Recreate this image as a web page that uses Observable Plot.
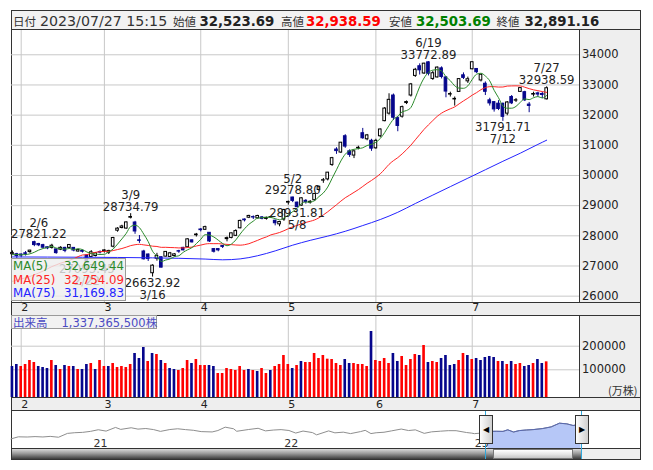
<!DOCTYPE html>
<html lang="ja">
<head>
<meta charset="utf-8">
<script src="https://cdn.jsdelivr.net/npm/d3@7"></script>
<script src="https://cdn.jsdelivr.net/npm/@observablehq/plot@0.6"></script>
<style>
  html,body{margin:0;padding:0;background:#fff;}
  #root{position:relative;width:653px;height:470px;overflow:hidden;font-family:"DejaVu Sans",sans-serif;}
  .a{position:absolute;box-sizing:border-box;}
  .jp{font-family:"Noto Sans CJK JP","DejaVu Sans",sans-serif;}
</style>
</head>
<body>
<div id="root"></div>
<script>
// ---------------- data ----------------
const dates = ["1/30","1/31",
 "2/1","2/2","2/3","2/6","2/7","2/8","2/9","2/10","2/13","2/14","2/15","2/16","2/17","2/20","2/21","2/22","2/24","2/27","2/28",
 "3/1","3/2","3/3","3/6","3/7","3/8","3/9","3/10","3/13","3/14","3/15","3/16","3/17","3/20","3/22","3/23","3/24","3/27","3/28","3/29","3/30","3/31",
 "4/3","4/4","4/5","4/6","4/7","4/10","4/11","4/12","4/13","4/14","4/17","4/18","4/19","4/20","4/21","4/24","4/25","4/26","4/27","4/28",
 "5/1","5/2","5/8","5/9","5/10","5/11","5/12","5/15","5/16","5/17","5/18","5/19","5/22","5/23","5/24","5/25","5/26","5/29","5/30","5/31",
 "6/1","6/2","6/5","6/6","6/7","6/8","6/9","6/12","6/13","6/14","6/15","6/16","6/19","6/20","6/21","6/22","6/23","6/26","6/27","6/28","6/29","6/30",
 "7/3","7/4","7/5","7/6","7/7","7/10","7/11","7/12","7/13","7/14","7/18","7/19","7/20","7/21","7/24","7/25","7/26","7/27"];

const opens = [27390,27390,27380,27420,27460,27790,27730,27690,27620,27600,27550,27540,27600,27600,27600,27480,27500,27350,27300,27330,27460,
 27480,27440,27640,28170,28260,28240,28600,28440,27850,27480,27380,26760,27240,27290,27310,27300,27330,27490,27600,27620,27850,28020,
 28210,28200,28100,27560,27560,27660,27890,27930,28000,28250,28540,28600,28620,28580,28610,28560,28610,28500,28380,28540,
 29100,29270,29100,29000,29160,29100,29180,29520,29830,29870,30350,30860,30760,31300,30800,30660,30900,31400,31200,31150,
 30900,31300,31800,32050,32650,31900,31950,32400,32650,33300,33620,33380,33750,33200,33250,33550,33250,32680,32520,32770,33320,33120,
 33520,33530,33150,33040,32490,32430,32380,32375,32050,32600,32480,32770,32760,32350,32680,32720,32700,32523.69];
const highs = [27500,27420,27400,27480,27520,27821.22,27750,27720,27630,27720,27560,27640,27620,27700,27610,27560,27530,27370,27510,27440,27500,
 27540,27520,27950,28270,28350,28460,28734.79,28480,28010,27520,27400,27040,27420,27300,27480,27450,27410,27520,27620,27900,27860,28080,
 28240,28320,28110,27580,27580,27680,27960,28090,28200,28520,28560,28680,28660,28680,28640,28620,28640,28520,28480,28880,
 29150,29278.80,29120,29260,29200,29170,29400,29640,29900,30100,30600,30920,31090,31352,30850,30810,30970,31560,31360,31200,
 31200,31540,32250,32708,32700,31950,32300,32470,33050,33550,33700,33720,33772.89,33450,33600,33600,33280,32760,32600,33200,33400,33260,
 33762,33540,33350,33100,32560,32450,32480,32400,32450,32650,32550,32900,32790,32420,32760,32760,32760,32938.59];
const lows = [27380,27250,27280,27330,27420,27640,27640,27580,27540,27560,27390,27510,27440,27560,27470,27460,27430,27093.45,27290,27300,27400,
 27430,27380,27600,28120,28230,28220,28560,28050,27750,27200,27150,26632.92,27160,26940,27300,27280,27300,27420,27500,27600,27760,27960,
 28130,28180,27780,27430,27470,27580,27800,27900,27980,28230,28460,28570,28540,28560,28530,28520,28580,28330,28300,28480,
 29020,29100,28931.81,28980,29050,29050,29150,29480,29740,29820,30300,30700,30730,30900,30600,30560,30850,31200,31150,30800,
 30870,31250,31780,32000,31820,31450,31900,32350,32600,33250,33330,33350,33300,33150,33230,33200,32575,32600,32300,32760,33180,33050,
 33500,33380,33100,32650,32300,32100,32150,31791.71,31980,32350,32420,32750,32450,32080,32600,32600,32550,32503.69];
const closes = [27433.40,27327.11,27346.88,27402.05,27509.46,27693.65,27685.47,27606.46,27584.35,27670.98,27427.32,27602.77,27501.86,27696.44,27513.13,27531.94,27473.10,27104.32,27453.48,27423.96,27445.56,
 27516.53,27498.87,27927.47,28237.78,28309.16,28444.19,28623.15,28143.97,27832.96,27222.04,27229.48,27010.61,27333.79,26945.67,27466.61,27419.61,27385.25,27476.87,27518.25,27883.78,27782.93,28041.48,
 28188.15,28287.42,27813.26,27472.63,27518.31,27633.66,27923.37,28082.70,28156.97,28493.47,28514.78,28658.83,28606.76,28657.57,28564.37,28593.52,28620.07,28416.47,28457.68,28856.44,
 29123.18,29157.95,28949.88,29242.82,29122.18,29126.72,29388.30,29626.34,29842.99,30093.59,30573.93,30808.35,31086.82,30957.77,30682.68,30801.13,30916.31,31233.54,31328.16,30887.88,
 31148.01,31524.22,32217.43,32506.78,31913.74,31641.27,32265.17,32434.00,33018.65,33502.42,33485.49,33706.08,33370.42,33388.91,33575.14,33264.88,32781.54,32698.81,32538.33,33193.99,33234.14,33189.04,
 33753.33,33422.52,33338.70,32773.02,32388.42,32189.73,32203.57,31943.93,32419.33,32391.26,32493.89,32896.03,32490.52,32304.25,32700.69,32682.51,32668.59,32891.16];

// closes before the first visible day (for the moving-average windows)
const priorCloses = [26507.87,26235.25,26405.87,26447.87,26340.50,26093.67,26094.50,25716.86,25820.80,25973.85,26175.56,26446.00,
 26449.61,26119.52,25822.32,26138.68,26791.12,26405.23,26553.53,26906.04,27299.19,27395.01,27362.75,27382.56];

// volume in 万株, and direction (r = up vs previous close, b = down)
const volumes = [114000,122500,114000,122500,139400,130900,114000,109700,105500,139400,
 118200,101300,118200,114000,114000,101300,101300,122500,126700,101300,
 139400,114000,114000,126700,109700,114000,109700,122500,169100,147900,
 194500,135200,169100,164800,139400,126700,105500,101300,97000,105500,
 139400,126700,143600,118200,118200,118200,114000,84300,84300,105500,
 101300,97000,114000,97000,101300,97000,92800,105500,84300,97000,
 114000,122500,160600,122500,105500,118200,135200,130900,130900,169100,
 147900,160600,145000,143600,126700,118200,143600,126700,126700,122500,
 122500,114000,262300,139400,135200,147900,126700,169100,135200,156400,
 118200,143600,164800,160600,203000,130900,135200,130900,147900,160600,
 118200,122500,139400,169100,160600,143600,147900,139400,152100,156400,
 152100,135200,135200,122500,135200,122500,126700,114000,118200,126700,
 143600,126700,133736.55];
const volDir = "bbrrrrbbbrbrbrbrbbrbrrbrrrrrbbbrbrbrbbrrrbrrrbbrrrrrrrbrbrrbrrrrbrbrrrrrrrrrbbrrrrbrrrrbbrrrrbrbrrbbbbrrbrbbbbbrbrbrrbbrbbr";

// 75-day moving average
const ma75Idx = [0,16,32,44,48,52,56,60,64,68,72,76,80,84,88,92,96,100,104,108,112,116,120,122];
const ma75Val = [27300,27290,27270,27230,27205,27235,27340,27500,27690,27850,27990,28150,28340,28540,28780,29070,29350,29630,29910,30190,30470,30740,31030,31169.83];

const monthIdx = [2,21,43,63,83,105];
const monthLabels = ["2","3","4","5","6","7"];
const priceTicks = [26000,27000,28000,29000,30000,31000,32000,33000,34000];
const volTicks = [100000,200000];

// annotated highs / lows
const extIdx  = [5,17,27,32,64,65,95,112,122];
const extKind = ["H","L","H","L","H","L","H","L","H"];

const headerDate = "2023/07/27 15:15";

// navigator (long-term line)
const navDates = ["2020-07-31","2020-08-14","2020-08-31","2020-09-15","2020-09-30","2020-10-14","2020-10-30","2020-11-16","2020-11-30","2020-12-15","2020-12-30",
 "2021-01-14","2021-01-29","2021-02-16","2021-02-26","2021-03-18","2021-03-31","2021-04-15","2021-04-30","2021-05-13","2021-05-31","2021-06-15","2021-06-30",
 "2021-07-15","2021-07-30","2021-08-20","2021-08-31","2021-09-14","2021-09-30","2021-10-06","2021-10-29","2021-11-16","2021-11-30","2021-12-15","2021-12-30",
 "2022-01-14","2022-01-27","2022-02-10","2022-02-28","2022-03-08","2022-03-31","2022-04-12","2022-04-28","2022-05-12","2022-05-31","2022-06-09","2022-06-20",
 "2022-06-30","2022-07-15","2022-07-29","2022-08-17","2022-08-31","2022-09-13","2022-09-30","2022-10-14","2022-10-31","2022-11-15","2022-11-30","2022-12-20",
 "2022-12-30","2023-01-04","2023-01-17","2023-01-30","2023-02-15","2023-02-28","2023-03-09","2023-03-20","2023-03-31","2023-04-14","2023-04-28","2023-05-15",
 "2023-05-31","2023-06-16","2023-06-30","2023-07-12","2023-07-27"];
const navValues = [21710,23289,23140,23455,23185,23626,22977,25907,26434,26688,27444,
 28698,27663,30467,28966,30216,29179,29643,28813,27448,28860,29441,28792,
 28279,27284,27013,28090,30670,29453,27528,28893,29808,27822,28459,28792,
 28124,26170,27696,26527,24790,27821,26335,26848,25748,27280,28246,25771,
 26393,26788,27802,29222,28092,28614,25937,27090,27587,27990,27969,26568,
 26095,25716,26138,27433,27501,27445,28623,26945,28041,28493,28856,29626,
 30888,33706,33189,31943,32891];
const navYears = ["2021-01-01","2022-01-01","2023-01-01"];
const navYearLabels = ["21","22","23"];
const navSelStart = "2023-01-30";

// ---------------- derived ----------------
const N = dates.length;
const L = N - 1;
const NAVY = "#06068c", GREEN = "#2a8a2a", RED = "#ff2626", BLUE = "#2424ff";
const rows = d3.range(N).map(i => ({i, o: opens[i], h: highs[i], l: lows[i], c: closes[i], up: closes[i] >= opens[i]}));
const allC = priorCloses.concat(closes);
const P = priorCloses.length;
const movingAvg = n => closes.map((_, i) => { const e = P + i + 1; return {i, v: d3.mean(allC.slice(Math.max(0, e - n), e))}; });
const ma5 = movingAvg(5), ma25 = movingAvg(25);
const ma75 = ma75Idx.map((i, k) => ({i, v: ma75Val[k]}));
const ext = extIdx.map((i, k) => ({i, kind: extKind[k], v: extKind[k] === "H" ? highs[i] : lows[i], date: dates[i]}));
const monthLabel = new Map(monthIdx.map((d, k) => [d, monthLabels[k]]));
const volRows = volumes.map((v, i) => ({i, v, col: volDir[i] === "r" ? "#ff0000" : NAVY}));
const navRows = navDates.map((d, k) => ({date: new Date(d), v: navValues[k]}));
const navSel = navRows.filter(d => d.date >= new Date(navSelStart));
const fmt = d3.format(",.2f");

const xDomain = [-0.215, 129.61];
const priceDomain = [25790, 34805];
const volDomain = [-17370, 330085];
const volBase = volDomain[0];
const navYDomain = [14360, 43410];
const navFloor = navYDomain[0];

const root = document.getElementById("root");
function box(css, html, cls) {
  const d = document.createElement("div");
  d.className = "a" + (cls ? " " + cls : "");
  d.style.cssText = css;
  if (html) d.innerHTML = html;
  root.appendChild(d);
  return d;
}
function place(el, left, top) {
  el.style.position = "absolute"; el.style.left = left + "px"; el.style.top = top + "px";
  root.appendChild(el);
}

// ---------------- backgrounds ----------------
box("left:11px;top:10px;width:630px;height:20px;border:1px solid #333;background:#f2f2f2;");
box("left:11px;top:29px;width:630px;height:431px;border:1px solid #333;background:#fff;");
box("left:580px;top:30px;width:60px;height:272px;background:#eeeeee;");
box("left:12px;top:303px;width:628px;height:12px;background:#eeeeee;");
box("left:580px;top:316px;width:60px;height:81px;background:#eeeeee;");
box("left:12px;top:398px;width:628px;height:12px;background:#eeeeee;");
box("left:582px;top:449px;width:58px;height:10px;background:#eeeeee;");

const baseStyle = {background: "transparent", fontFamily: "DejaVu Sans, sans-serif", fontSize: "11.5px", color: "#222", overflow: "visible"};

// ---------------- main price chart ----------------
const hi = ext.filter(d => d.kind === "H"), lo = ext.filter(d => d.kind === "L");
const main = Plot.plot({
  width: 653, height: 285,
  marginLeft: 11, marginRight: 73.5, marginTop: 0, marginBottom: 13,
  x: {domain: xDomain},
  y: {domain: priceDomain},
  color: {type: "identity"},
  style: baseStyle,
  marks: [
    Plot.gridY(priceTicks, {stroke: "#c8c8c8", strokeOpacity: 1}),
    Plot.gridX(monthIdx, {stroke: "#c8c8c8", strokeOpacity: 1}),
    Plot.ruleX(rows, {x: "i", y1: "l", y2: "h", stroke: d => d.up ? "#000000" : NAVY, strokeWidth: 1}),
    Plot.rect(rows, {x1: d => d.i - 0.3, x2: d => d.i + 0.3,
      y1: d => Math.min(d.o, d.c), y2: d => Math.max(d.o, d.c),
      fill: d => d.up ? "#ffffff" : NAVY, stroke: d => d.up ? "#000000" : NAVY, strokeWidth: 1}),
    Plot.line(ma75, {x: "i", y: "v", stroke: BLUE, strokeWidth: 1, curve: "monotone-x"}),
    Plot.line(ma25, {x: "i", y: "v", stroke: RED, strokeWidth: 1, curve: "monotone-x"}),
    Plot.line(ma5, {x: "i", y: "v", stroke: GREEN, strokeWidth: 1, curve: "monotone-x"}),
    Plot.text(hi.filter(d => d.i !== 5), {x: "i", y: "v", text: d => `${d.date}\n${d.v.toFixed(2)}`,
      lineAnchor: "bottom", dy: -3, lineHeight: 0.97, fontSize: 11.7, fill: "#222"}),
    Plot.text(hi.filter(d => d.i === 5), {x: "i", y: "v", text: d => `${d.date}\n${d.v.toFixed(2)}`,
      lineAnchor: "bottom", dy: -3, dx: 4.5, lineHeight: 0.97, fontSize: 11.7, fill: "#222"}),
    Plot.text(lo, {x: "i", y: "v", text: d => `${d.v.toFixed(2)}\n${d.date}`,
      lineAnchor: "top", dy: 1, lineHeight: 1.03, fontSize: 11.7, fill: "#222"}),
    Plot.axisY(priceTicks, {anchor: "right", tickSize: 0, tickPadding: 2, tickFormat: d => String(d), label: null}),
    Plot.axisX(monthIdx, {anchor: "bottom", tickSize: 0, tickPadding: 1, textAnchor: "start",
      tickFormat: d => monthLabel.get(d), label: null, fontSize: 11})
  ]
});
place(main, 0, 30);

// ---------------- volume chart ----------------
const vol = Plot.plot({
  width: 653, height: 95,
  marginLeft: 11, marginRight: 73.5, marginTop: 0, marginBottom: 13,
  x: {domain: xDomain},
  y: {domain: volDomain},
  color: {type: "identity"},
  style: baseStyle,
  marks: [
    Plot.gridY(volTicks, {stroke: "#c8c8c8", strokeOpacity: 1}),
    Plot.gridX(monthIdx, {stroke: "#c8c8c8", strokeOpacity: 1}),
    Plot.rect(volRows, {x1: d => d.i - 0.3, x2: d => d.i + 0.3, y1: volBase, y2: "v", fill: "col"}),
    Plot.axisY(volTicks, {anchor: "right", tickSize: 0, tickPadding: 2, tickFormat: d => String(d), label: null}),
    Plot.axisX(monthIdx, {anchor: "bottom", tickSize: 0, tickPadding: 2.5, textAnchor: "start",
      tickFormat: d => monthLabel.get(d), label: null, fontSize: 11})
  ]
});
place(vol, 0, 315);

// ---------------- navigator ----------------
const nav = Plot.plot({
  width: 653, height: 38,
  marginLeft: 10, marginRight: 13, marginTop: 0, marginBottom: 0,
  x: {type: "utc", domain: [new Date("2020-07-30"), new Date("2023-11-18")], axis: null},
  y: {domain: navYDomain, axis: null},
  style: baseStyle,
  marks: [
    Plot.areaY(navSel, {x: "date", y1: navFloor, y2: "v", fill: "#b6c7f7"}),
    Plot.line(navRows, {x: "date", y: "v", stroke: "#8e8e8e", strokeWidth: 1}),
    Plot.line(navSel, {x: "date", y: "v", stroke: "#5868b0", strokeWidth: 1}),
    Plot.text(navYears, {x: d => new Date(d), frameAnchor: "bottom", text: (d, k) => navYearLabels[k],
      textAnchor: "start", lineAnchor: "bottom", dx: 2, dy: -2, fontSize: 11, fill: "#333"})
  ]
});
place(nav, 0, 410);

// ---------------- frame lines ----------------
[302, 315, 397, 410, 448].forEach(y => box(`left:11px;top:${y}px;width:630px;height:1px;background:#333;`));
box("left:579px;top:30px;width:1px;height:272px;background:#333;");
box("left:579px;top:316px;width:1px;height:81px;background:#333;");

// ---------------- header ----------------
const hs = d3.create("svg").attr("width", 653).attr("height", 30);
const hItems = [
  {x: 13, t: "日付", jp: true},
  {x: 40, t: headerDate, size: 14.2, fill: "#333"},
  {x: 173, t: "始値", jp: true},
  {x: 199.5, t: fmt(opens[L]), bold: true, fill: "#222"},
  {x: 281, t: "高値", jp: true},
  {x: 306, t: fmt(highs[L]), bold: true, fill: "#ff0000"},
  {x: 389, t: "安値", jp: true},
  {x: 416, t: fmt(lows[L]), bold: true, fill: "#008000"},
  {x: 496.5, t: "終値", jp: true},
  {x: 524.5, t: fmt(closes[L]), bold: true, fill: "#222"}
];
hItems.forEach(h => {
  hs.append("text").attr("x", h.x).attr("y", 26).text(h.t)
    .attr("fill", h.fill || "#333")
    .attr("font-family", h.jp ? "Noto Sans CJK JP, sans-serif" : "DejaVu Sans, sans-serif")
    .attr("font-size", h.jp ? 11.5 : (h.size || 13.3))
    .attr("font-weight", h.bold ? "bold" : "normal");
});
place(hs.node(), 0, 0);

// ---------------- MA legend ----------------
const legendRows = [["MA(5)", ma5[L].v, GREEN], ["MA(25)", ma25[L].v, RED], ["MA(75)", ma75[ma75.length - 1].v, BLUE]];
box("left:11px;top:258px;width:115px;height:43px;border:1px solid #9a9a9a;background:rgba(238,238,238,0.8);padding:1px 1px 0 1px;font-size:11.8px;line-height:13.5px;",
  legendRows.map(r => `<div style="display:flex;justify-content:space-between;color:${r[2]}"><span>${r[0]}</span><span>${fmt(r[1])}</span></div>`).join(""));

// ---------------- volume label ----------------
box("left:11px;top:315px;width:146px;height:14px;border:1px solid #9a9a9a;background:rgba(240,240,240,0.85);color:#4b4bc3;font-size:11.5px;line-height:12px;white-space:nowrap;padding-left:1px;",
  `<span class="jp">出来高</span><span style="margin-left:14px">${d3.format(",")(Math.round(volumes[L] * 10000))}</span><span class="jp">株</span>`);
box("left:608px;top:384px;font-size:11px;line-height:12px;color:#333;", "(万株)", "jp");

// ---------------- scrollbar & handles ----------------
box("left:12px;top:449px;width:569px;height:10px;background:linear-gradient(#dadada,#9a9a9a 45%,#3c3c3c);");
box("left:493px;top:449px;width:80px;height:10px;border:1px solid #777;background:linear-gradient(#ffffff,#e4e4e4 55%,#c4c4c4);");
box("left:485px;top:411px;width:1px;height:48px;background:#2fa8dc;");
box("left:581px;top:411px;width:1px;height:48px;background:#2fa8dc;");
box("left:479px;top:415px;width:14px;height:29px;border:1px solid #333;background:linear-gradient(90deg,#fdfdfd,#cfcfcf);font-size:8px;line-height:27px;text-align:center;color:#000;", "◀");
box("left:575px;top:415px;width:14px;height:29px;border:1px solid #333;background:linear-gradient(90deg,#fdfdfd,#cfcfcf);font-size:8px;line-height:27px;text-align:center;color:#000;", "▶");
</script>
</body>
</html>
